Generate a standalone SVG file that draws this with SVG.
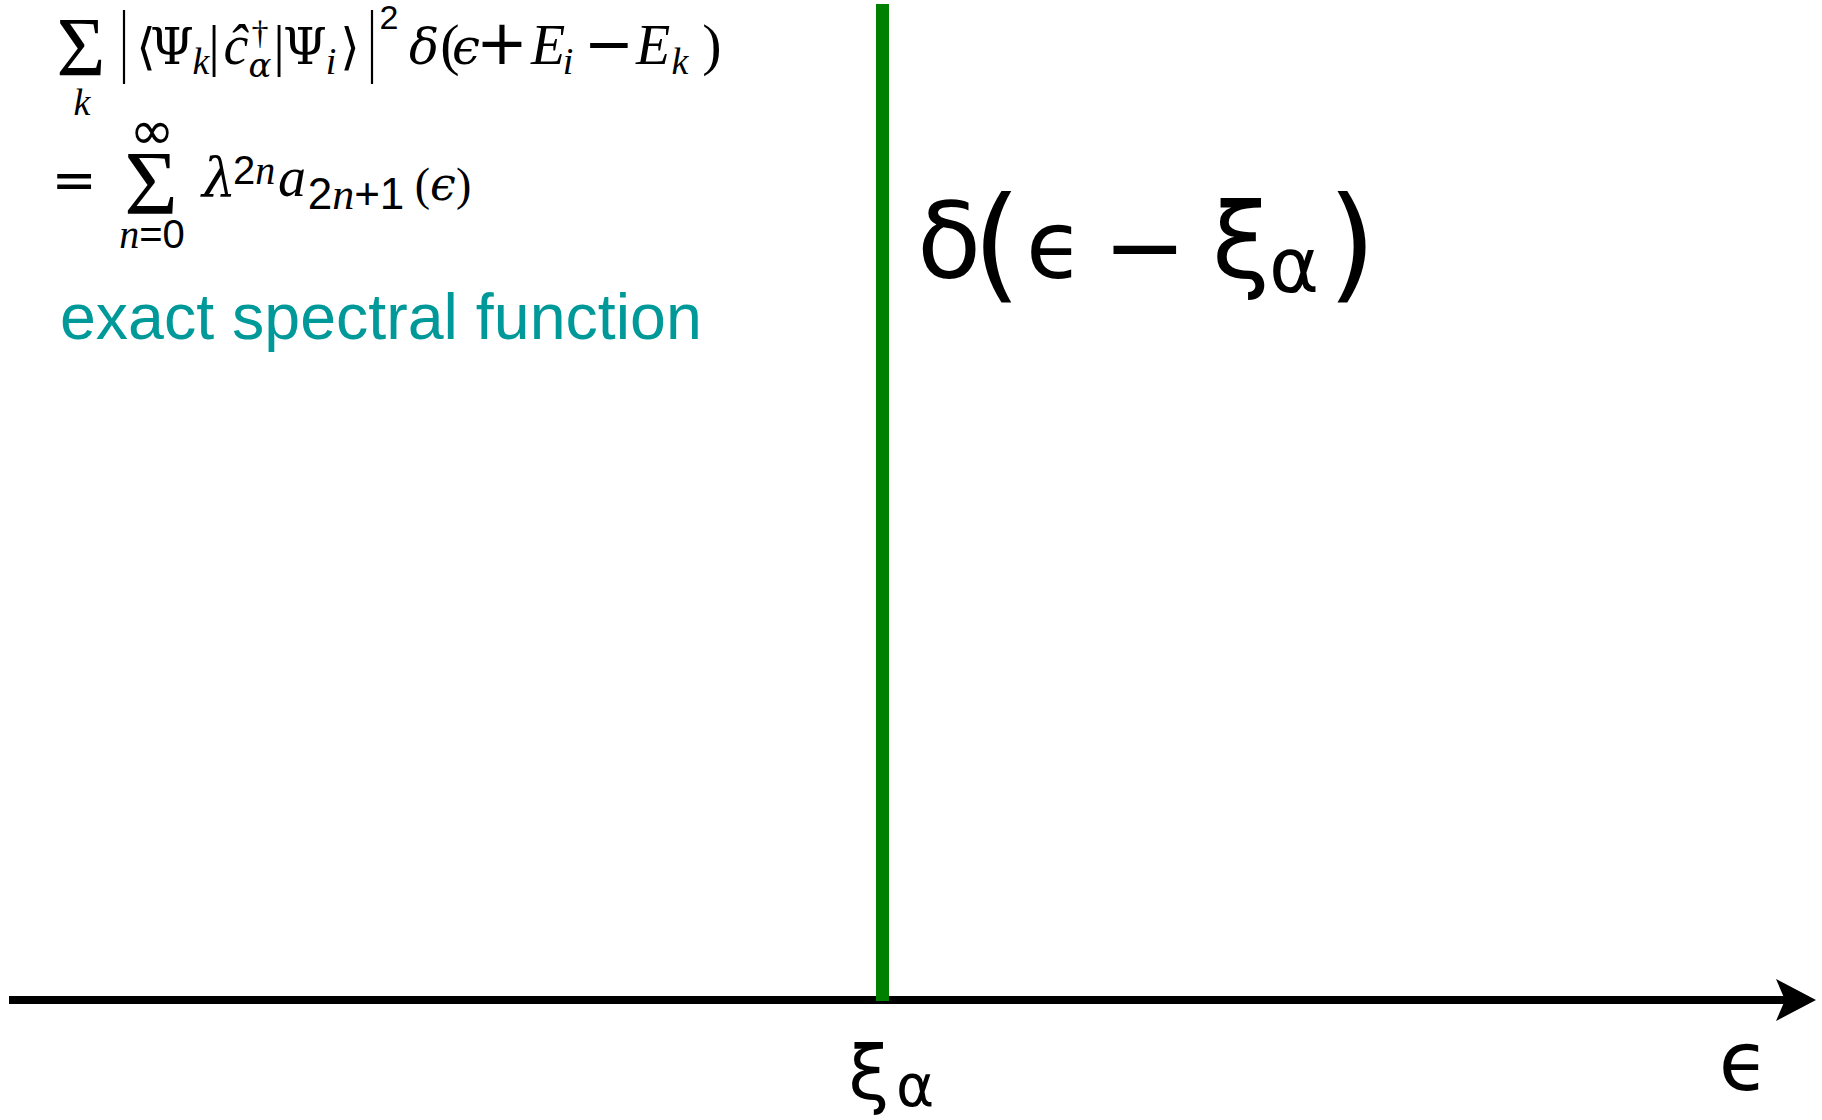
<svg xmlns="http://www.w3.org/2000/svg" width="1822" height="1120" viewBox="0 0 1822 1120">
<style>
text{text-anchor:middle}
.rm{font-family:"Liberation Serif","Times New Roman",serif;fill:#000}
.it{font-family:"Liberation Serif","Times New Roman",serif;font-style:italic;fill:#000}
.gr{font-family:"DejaVu Serif",serif;fill:#000}
.gk{font-family:"DejaVu Serif",serif;font-style:italic;fill:#000}
.op{font-family:"DejaVu Sans",sans-serif;fill:#000}
.sf{font-family:"Liberation Sans",Arial,sans-serif;fill:#000}
.eu{font-family:"DejaVu Sans",sans-serif;fill:#000}
.lbl{font-family:"Liberation Sans",Arial,sans-serif;fill:#009999;font-size:64.5px;text-anchor:start}
.bar{stroke:#000;stroke-width:2.2}
</style>
<defs>
<marker id="arrow" markerUnits="userSpaceOnUse" markerWidth="44" markerHeight="44" viewBox="0 0 44 44" refX="9" refY="21" orient="auto">
<path d="M0,0 L40,21 L0,42 L9,21 Z" fill="#000"/>
</marker>
</defs>
<rect width="1822" height="1120" fill="#fff"/>

<g id="connectors">
<line id="axis" x1="9" y1="1000" x2="1785" y2="1000" stroke="#000" stroke-width="8" marker-end="url(#arrow)"/>
</g>

<g id="peak">
<rect x="876" y="4" width="13" height="997" fill="#008000"/>
</g>

<g id="formula">
<text class="rm" x="81" y="76" font-size="84">Σ</text>
<text class="it" x="82" y="115" font-size="38">k</text>
<line class="bar" x1="124" y1="10" x2="124" y2="84"/>
<text class="op" x="146" y="64" font-size="50">⟨</text>
<text class="gr" x="172" y="64" font-size="50">Ψ</text>
<text class="it" x="201" y="74" font-size="38">k</text>
<text class="rm" x="214" y="65" font-size="58">|</text>
<text class="it" x="236" y="64" font-size="56">ĉ</text>
<text class="rm" x="260" y="44" font-size="34">†</text>
<text class="gk" x="260" y="77" font-size="34">α</text>
<text class="rm" x="279" y="65" font-size="58">|</text>
<text class="gr" x="305" y="64" font-size="50">Ψ</text>
<text class="it" x="331" y="74" font-size="38">i</text>
<text class="op" x="350" y="64" font-size="50">⟩</text>
<line class="bar" x1="372" y1="10" x2="372" y2="84"/>
<text class="sf" x="389" y="29" font-size="34">2</text>
<text class="gk" x="424" y="64" font-size="50">δ</text>
<text class="rm" x="450" y="64" font-size="58">(</text>
<text class="gk" x="466" y="64" font-size="50">ϵ</text>
<text class="op" x="502" y="64" font-size="62">+</text>
<text class="it" x="548" y="64" font-size="56">E</text>
<text class="it" x="568" y="74" font-size="38">i</text>
<text class="op" x="609" y="64" font-size="60">−</text>
<text class="it" x="653" y="64" font-size="56">E</text>
<text class="it" x="680" y="74" font-size="38">k</text>
<text class="rm" x="712" y="64" font-size="58">)</text>

<text class="op" x="74" y="198" font-size="54">=</text>
<text class="rm" x="151" y="214" font-size="92">Σ</text>
<text class="op" x="152" y="149" font-size="54">∞</text>
<text x="152" y="248" font-size="40"><tspan class="it">n</tspan><tspan class="sf">=0</tspan></text>
<text class="gk" x="219" y="196" font-size="54">λ</text>
<text x="254" y="184" font-size="40"><tspan class="sf">2</tspan><tspan class="it">n</tspan></text>
<text class="it" x="292" y="196" font-size="56">a</text>
<text x="356" y="209" font-size="44"><tspan class="sf">2</tspan><tspan class="it">n</tspan><tspan class="sf">+1</tspan></text>
<text x="443" y="200" font-size="46"><tspan class="rm">(</tspan><tspan class="gk">ϵ</tspan><tspan class="rm">)</tspan></text>
</g>

<g id="label-exact">
<text class="lbl" x="60" y="339">exact spectral function</text>
</g>

<g id="label-delta">
<text class="eu" x="949" y="278" font-size="105">δ</text>
<text class="eu" x="997" y="286" font-size="125">(</text>
<text class="eu" x="1055" y="278" font-size="94">ϵ</text>
<text class="eu" x="1145" y="281" font-size="100">−</text>
<text class="eu" x="1241" y="278" font-size="105">ξ</text>
<text class="eu" x="1294" y="292" font-size="76">α</text>
<text class="eu" x="1352" y="286" font-size="125">)</text>
</g>

<g id="label-xi">
<text class="eu" x="869" y="1099" font-size="74">ξ</text>
<text class="eu" x="915" y="1106" font-size="58">α</text>
</g>

<g id="label-epsilon">
<text class="eu" x="1744" y="1090" font-size="82">ϵ</text>
</g>
</svg>
